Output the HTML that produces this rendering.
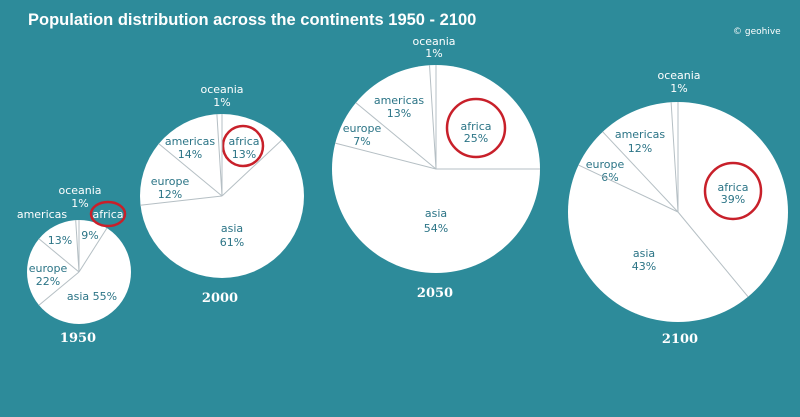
<!DOCTYPE html>
<html><head><meta charset="utf-8"><style>
html,body{margin:0;padding:0;background:#2d8b9a;}
svg{display:block;font-family:"DejaVu Sans","Liberation Sans",sans-serif;}
.w{fill:#fff;font-size:11px;text-anchor:middle}
.t{fill:#2b7486;font-size:11px;text-anchor:middle}
.y{fill:#fff;font-size:13px;font-weight:bold;text-anchor:middle;font-family:"DejaVu Serif","Liberation Serif",serif}
line{stroke:#b5bfc4;stroke-width:1}
circle.p{fill:#fff}
circle.r{fill:none;stroke:#c8202a;stroke-width:2.5}
</style></head><body>
<svg width="800" height="417" viewBox="0 0 800 417">
<rect width="800" height="417" fill="#2d8b9a"/>
<text x="28" y="25" fill="#fff" font-size="16.5" font-weight="bold" font-family="Liberation Sans, sans-serif">Population distribution across the continents 1950 - 2100</text>
<text x="733" y="34" fill="#fff" font-size="9">© geohive</text>

<!-- 1950 -->
<circle class="p" cx="79" cy="272" r="52"/>
<text class="w" x="80" y="194">oceania</text><text class="w" x="80" y="207">1%</text>
<text class="w" x="42" y="218">americas</text>
<text class="w" x="108" y="218">africa</text>
<ellipse cx="108" cy="214" rx="17" ry="12" fill="none" stroke="#c8202a" stroke-width="2.5"/>
<text class="t" x="60" y="244">13%</text><text class="t" x="90" y="239">9%</text>
<text class="t" x="48" y="272">europe</text><text class="t" x="48" y="285">22%</text>
<text class="t" x="92" y="300">asia 55%</text>
<text class="y" x="78" y="342">1950</text>

<!-- 2000 -->
<circle class="p" cx="222" cy="196" r="82"/>
<text class="w" x="222" y="93">oceania</text><text class="w" x="222" y="106">1%</text>
<text class="t" x="190" y="145">americas</text><text class="t" x="190" y="158">14%</text>
<text class="t" x="244" y="145">africa</text><text class="t" x="244" y="158">13%</text>
<circle class="r" cx="243" cy="146" r="20"/>
<text class="t" x="170" y="185">europe</text><text class="t" x="170" y="198">12%</text>
<text class="t" x="232" y="232">asia</text><text class="t" x="232" y="246">61%</text>
<text class="y" x="220" y="302">2000</text>

<!-- 2050 -->
<circle class="p" cx="436" cy="169" r="104"/>
<text class="w" x="434" y="45">oceania</text><text class="w" x="434" y="57">1%</text>
<text class="t" x="399" y="104">americas</text><text class="t" x="399" y="117">13%</text>
<text class="t" x="362" y="132">europe</text><text class="t" x="362" y="145">7%</text>
<text class="t" x="476" y="130">africa</text><text class="t" x="476" y="142">25%</text>
<circle class="r" cx="476" cy="128" r="29"/>
<text class="t" x="436" y="217">asia</text><text class="t" x="436" y="232">54%</text>
<text class="y" x="435" y="297">2050</text>

<!-- 2100 -->
<circle class="p" cx="678" cy="212" r="110"/>
<text class="w" x="679" y="79">oceania</text><text class="w" x="679" y="92">1%</text>
<text class="t" x="640" y="138">americas</text><text class="t" x="640" y="152">12%</text>
<text class="t" x="605" y="168">europe</text><text class="t" x="610" y="181">6%</text>
<text class="t" x="733" y="191">africa</text><text class="t" x="733" y="203">39%</text>
<circle class="r" cx="733" cy="191" r="28"/>
<text class="t" x="644" y="257">asia</text><text class="t" x="644" y="270">43%</text>
<text class="y" x="680" y="343">2100</text>

<g>
<line x1="79" y1="272" x2="79" y2="220"/>
<line x1="79" y1="272" x2="106.9" y2="228.1"/>
<line x1="79" y1="272" x2="38.9" y2="305.2"/>
<line x1="79" y1="272" x2="38.9" y2="238.8"/>
<line x1="79" y1="272" x2="75.7" y2="220.1"/>
<line x1="222" y1="196" x2="222" y2="114"/>
<line x1="222" y1="196" x2="281.8" y2="140"/>
<line x1="222" y1="196" x2="140.2" y2="205.2"/>
<line x1="222" y1="196" x2="158.8" y2="143.7"/>
<line x1="222" y1="196" x2="216.9" y2="114.2"/>
<line x1="436" y1="169" x2="436" y2="65"/>
<line x1="436" y1="169" x2="540" y2="169"/>
<line x1="436" y1="169" x2="335.2" y2="143.1"/>
<line x1="436" y1="169" x2="355.9" y2="102.7"/>
<line x1="436" y1="169" x2="429.5" y2="65.2"/>
<line x1="678" y1="212" x2="678" y2="102"/>
<line x1="678" y1="212" x2="748.1" y2="296.8"/>
<line x1="678" y1="212" x2="578.5" y2="165.1"/>
<line x1="678" y1="212" x2="602.7" y2="131.8"/>
<line x1="678" y1="212" x2="671.1" y2="102.2"/>
</g>
</svg>
</body></html>
